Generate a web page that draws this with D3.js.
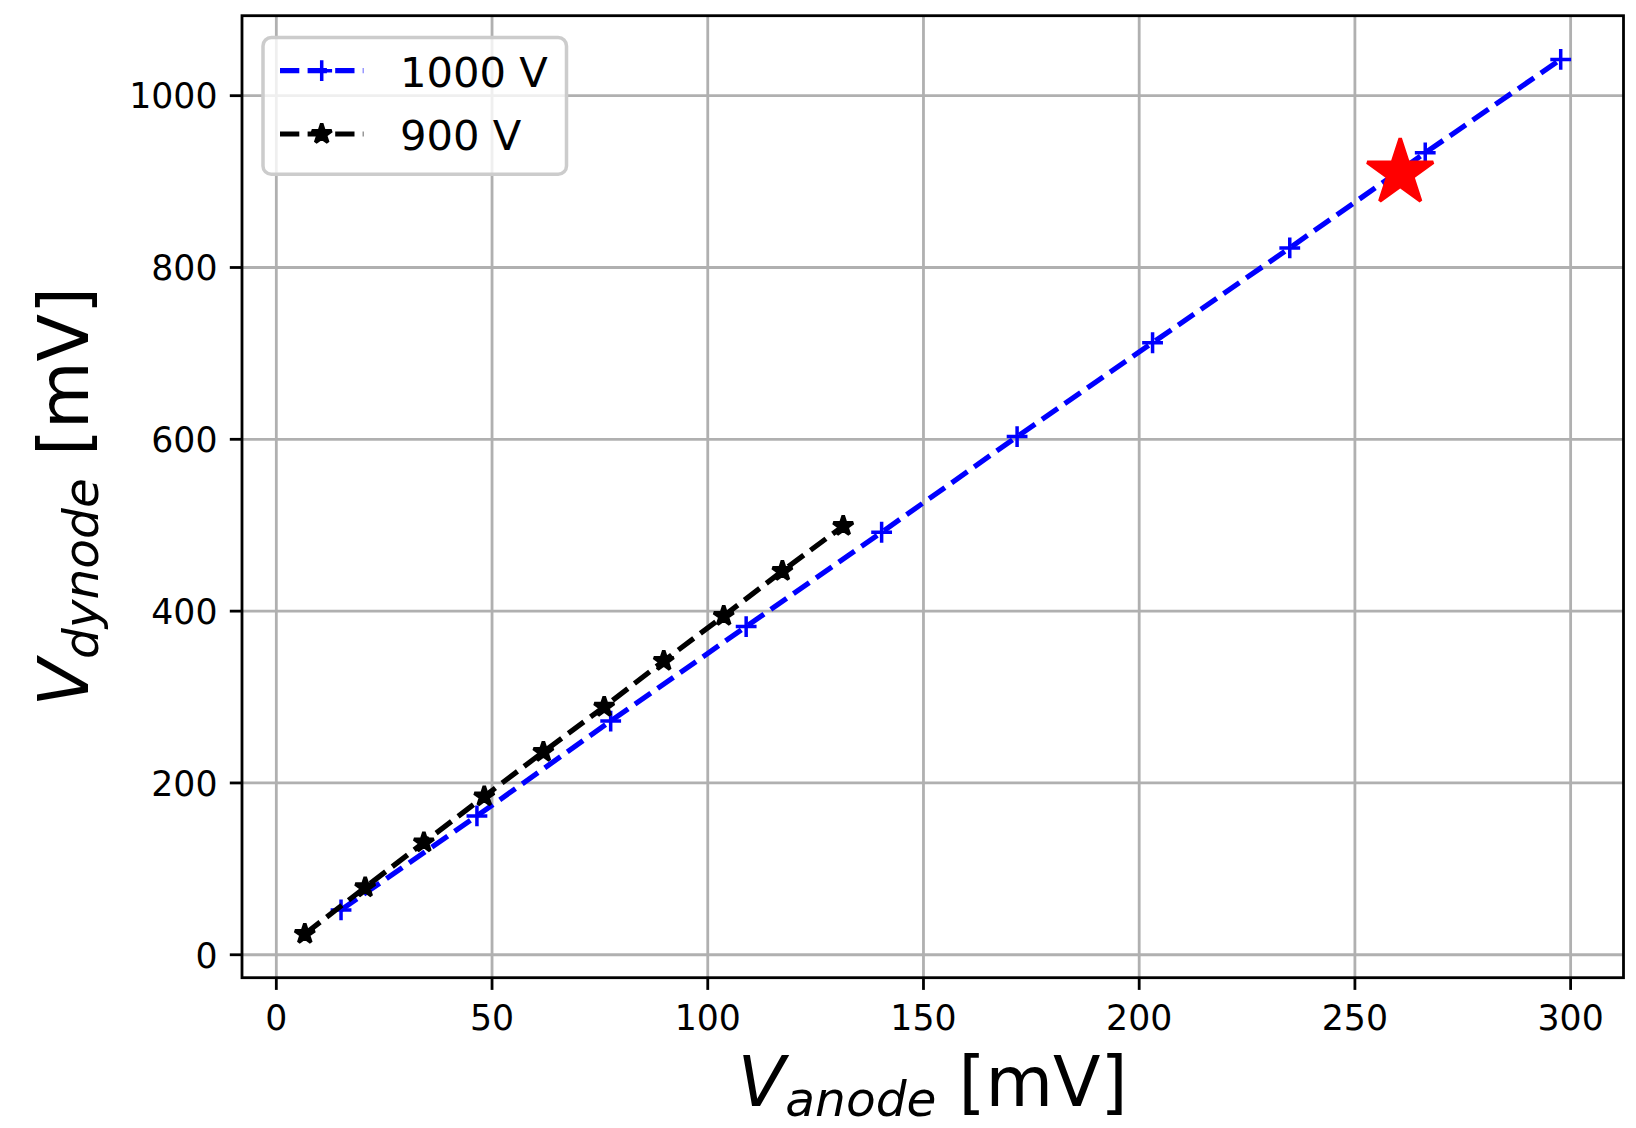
<!DOCTYPE html>
<html>
<head>
<meta charset="utf-8">
<script src="https://d3js.org/d3.v7.min.js"></script>
<style>
  body { margin: 0; background: #fff; }
  svg { font-family: "DejaVu Sans", sans-serif; }
</style>
</head>
<body>
<script>
// data
var anode1000 = [15.0, 46.5, 77.5, 108.9, 140.3, 171.7, 203.1, 234.9, 266.3, 297.7];
var dynode1000 = [52.2, 161.6, 272.0, 382.0, 491.8, 603.2, 712.4, 822.8, 933.5, 1042.2];
var anode900 = [6.6, 20.6, 34.2, 48.2, 61.9, 76.0, 89.8, 103.7, 117.3, 131.4];
var dynode900 = [24.2, 78.5, 130.8, 184.3, 236.2, 288.6, 342.1, 394.4, 446.7, 499.1];
var highlight = [260.5, 910.0];
var seriesNames = ["1000 V", "900 V"];
var xTicks = [0, 50, 100, 150, 200, 250, 300];
var yTicks = [0, 200, 400, 600, 800, 1000];

var width = 1636, height = 1128;
// plot box (window.top is reserved, so prefixed names)
var pLeft = 242, pRight = 1623.5, pTop = 15.7, pBottom = 977.7;
var lw = 5.2;           // 1.5pt at this dpi
var thin = 2.8;         // 0.8pt

var svg = d3.select("body").append("svg")
    .attr("width", width)
    .attr("height", height);

// matplotlib style 5% margins
function padded(vals) {
    var ext = d3.extent(vals);
    var p = (ext[1] - ext[0]) * 0.05;
    return [ext[0] - p, ext[1] + p];
}
var x = d3.scaleLinear()
    .domain(padded(anode1000.concat(anode900)))
    .range([pLeft, pRight]);
var y = d3.scaleLinear()
    .domain(padded(dynode1000.concat(dynode900)))
    .range([pBottom, pTop]);

// grid
var grid = svg.append("g");
grid.selectAll(".gx").data(xTicks).enter().append("line")
    .attr("x1", d => x(d)).attr("x2", d => x(d))
    .attr("y1", pTop).attr("y2", pBottom)
    .attr("stroke", "#b0b0b0").attr("stroke-width", thin);
grid.selectAll(".gy").data(yTicks).enter().append("line")
    .attr("x1", pLeft).attr("x2", pRight)
    .attr("y1", d => y(d)).attr("y2", d => y(d))
    .attr("stroke", "#b0b0b0").attr("stroke-width", thin);

function starPath(R) {
    var pts = [];
    for (var k = 0; k < 10; k++) {
        var r = (k % 2 == 0) ? R : R * 0.381966;
        var a = -Math.PI / 2 + k * Math.PI / 5;
        pts.push([r * Math.cos(a), r * Math.sin(a)]);
    }
    return "M" + pts.map(p => p[0].toFixed(2) + "," + p[1].toFixed(2)).join("L") + "Z";
}
function plusPath(h) {
    return "M" + (-h) + ",0H" + h + "M0," + (-h) + "V" + h;
}

var line = d3.line().x(d => x(d[0])).y(d => y(d[1]));
var plot = svg.append("g");

// 1000 V series
var pts1000 = d3.zip(anode1000, dynode1000);
plot.append("path").datum(pts1000)
    .attr("d", line)
    .attr("fill", "none").attr("stroke", "#0000ff")
    .attr("stroke-width", lw).attr("stroke-dasharray", "19.3,8.3");
plot.selectAll(".p1").data(pts1000).enter().append("path")
    .attr("transform", d => "translate(" + x(d[0]) + "," + y(d[1]) + ")")
    .attr("d", plusPath(10.4))
    .attr("stroke", "#0000ff").attr("stroke-width", 3.5).attr("fill", "none");

// 900 V series
var pts900 = d3.zip(anode900, dynode900);
plot.append("path").datum(pts900)
    .attr("d", line)
    .attr("fill", "none").attr("stroke", "#000")
    .attr("stroke-width", lw).attr("stroke-dasharray", "19.3,8.3");
plot.selectAll(".p2").data(pts900).enter().append("path")
    .attr("transform", d => "translate(" + x(d[0]) + "," + y(d[1]) + ")")
    .attr("d", starPath(10.4))
    .attr("fill", "#000").attr("stroke", "#000")
    .attr("stroke-width", 3.5).attr("stroke-linejoin", "bevel");

// highlighted point
plot.append("path")
    .attr("transform", "translate(" + x(highlight[0]) + "," + y(highlight[1]) + ")")
    .attr("d", starPath(34.7))
    .attr("fill", "#ff0000").attr("stroke", "#ff0000")
    .attr("stroke-width", 3.5).attr("stroke-linejoin", "bevel");

// ticks
var axes = svg.append("g");
axes.selectAll(".tx").data(xTicks).enter().append("line")
    .attr("x1", d => x(d)).attr("x2", d => x(d))
    .attr("y1", pBottom).attr("y2", pBottom + 12.2)
    .attr("stroke", "#000").attr("stroke-width", thin);
axes.selectAll(".lx").data(xTicks).enter().append("text")
    .attr("x", d => x(d)).attr("y", 1030)
    .attr("text-anchor", "middle").attr("font-size", 34.7)
    .text(d => d);
axes.selectAll(".ty").data(yTicks).enter().append("line")
    .attr("x1", pLeft - 12.2).attr("x2", pLeft)
    .attr("y1", d => y(d)).attr("y2", d => y(d))
    .attr("stroke", "#000").attr("stroke-width", thin);
axes.selectAll(".ly").data(yTicks).enter().append("text")
    .attr("x", 217.5).attr("y", d => y(d) + 12.8)
    .attr("text-anchor", "end").attr("font-size", 34.7)
    .text(d => d);

// frame
svg.append("rect")
    .attr("x", pLeft).attr("y", pTop)
    .attr("width", pRight - pLeft).attr("height", pBottom - pTop)
    .attr("fill", "none").attr("stroke", "#000").attr("stroke-width", thin);

// axis labels
var xl = svg.append("text")
    .attr("x", (pLeft + pRight) / 2).attr("y", 1106)
    .attr("text-anchor", "middle").attr("font-size", 69.4);
xl.append("tspan").attr("font-style", "italic").text("V");
xl.append("tspan").attr("font-style", "italic").attr("font-size", 48.6)
    .attr("dy", 10).text("anode");
xl.append("tspan").attr("dy", -10).text(" [mV]");

var yl = svg.append("text")
    .attr("transform", "translate(88," + ((pTop + pBottom) / 2) + ") rotate(-90)")
    .attr("text-anchor", "middle").attr("font-size", 69.4);
yl.append("tspan").attr("font-style", "italic").text("V");
yl.append("tspan").attr("font-style", "italic").attr("font-size", 48.6)
    .attr("dy", 10).text("dynode");
yl.append("tspan").attr("dy", -10).text(" [mV]");

// legend
var leg = svg.append("g");
leg.append("rect")
    .attr("x", 263).attr("y", 37.6)
    .attr("width", 303.5).attr("height", 136.6)
    .attr("rx", 8.3).attr("ry", 8.3)
    .attr("fill", "#fff").attr("fill-opacity", 0.8)
    .attr("stroke", "#cccccc").attr("stroke-width", 3.5);
var rows = [
    {name: seriesNames[0], color: "#0000ff", mark: plusPath(10.4), filled: false, y: 70.7},
    {name: seriesNames[1], color: "#000", mark: starPath(10.4), filled: true, y: 134}
];
rows.forEach(function(r) {
    leg.append("line")
        .attr("x1", 280).attr("x2", 363.4)
        .attr("y1", r.y).attr("y2", r.y)
        .attr("stroke", r.color).attr("stroke-width", lw)
        .attr("stroke-dasharray", "19.3,8.3");
    leg.append("path")
        .attr("transform", "translate(321.7," + r.y + ")")
        .attr("d", r.mark)
        .attr("fill", r.filled ? r.color : "none")
        .attr("stroke", r.color).attr("stroke-width", 3.5)
        .attr("stroke-linejoin", "bevel");
    leg.append("text")
        .attr("x", 400).attr("y", r.y + 16)
        .attr("font-size", 41.7)
        .text(r.name);
});
</script>
</body>
</html>
